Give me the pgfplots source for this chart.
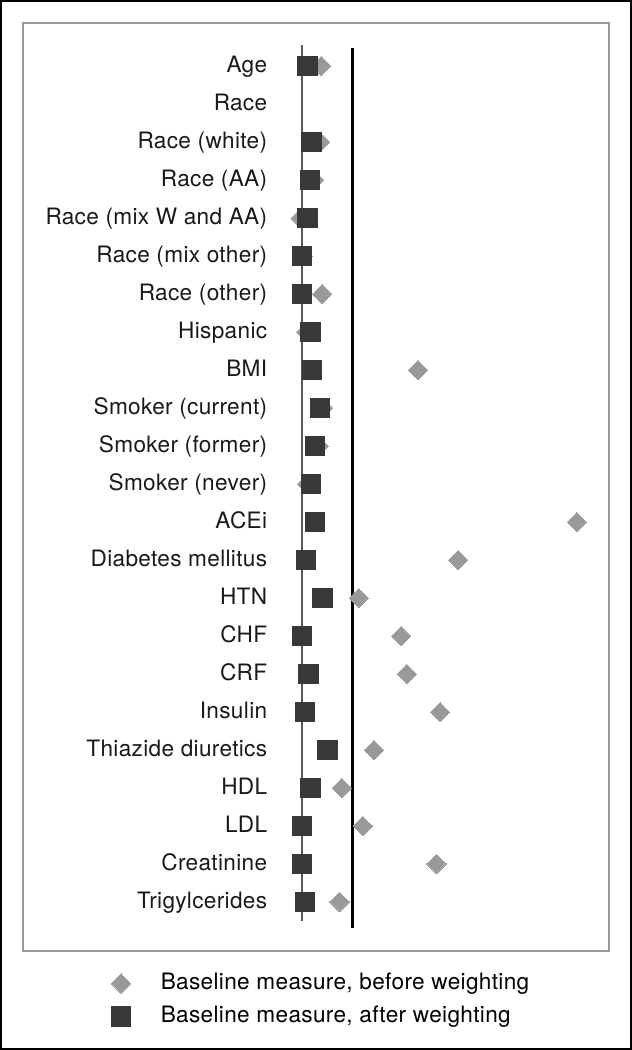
\documentclass[border=0pt]{standalone}
\usepackage{fontspec}
\setmainfont{TeX Gyre Heros}[LetterSpace=1.5]
\usepackage{pgfplots}
\usepackage{pgfplotstable}
\pgfplotsset{compat=1.18}

\definecolor{before}{HTML}{999999}
\definecolor{after}{HTML}{383838}
\definecolor{framegray}{HTML}{9A9A9A}
\definecolor{zerogray}{HTML}{5A5A5A}

% standardized differences, row 0 = Age ... row 22 = Trigylcerides (row 1 "Race" is empty)
\pgfplotstableread{
row before after
0  0.0385  0.011
2  0.0366  0.019
3  0.0247  0.0158
4  -0.0024 0.011
5  0.002   0.0
6  0.0405  0.0
7  0.0089  0.017
8  0.2294  0.0204
9  0.0425  0.0356
10 0.0332  0.0263
11 0.0101  0.0184
12 0.5435  0.0263
13 0.309   0.0085
14 0.1126  0.0405
15 0.1966  0.0
16 0.2075  0.0134
17 0.2733  0.0059
18 0.1425  0.0506
19 0.079   0.017
20 0.1202  0.0
21 0.266   0.0
22 0.0743  0.0059
}\smd

\begin{document}
\begin{tikzpicture}
\begin{axis}[
  name=ax,
  scale only axis,
  width=293pt, height=464pt,
  xmin=-0.551, xmax=0.607,
  ymin=-1.132, ymax=23.29,
  y dir=reverse,
  clip=false,
  axis line style={draw=framegray, line width=0.75pt},
  xtick=\empty,
  ytick={0,...,22},
  major tick length=0pt,
  yticklabels={Age, Race, Race (white), Race (AA), Race (mix W and AA),
    Race (mix other), Race (other), Hispanic, BMI, Smoker (current),
    Smoker (former), Smoker (never), ACEi, Diabetes mellitus, HTN, CHF,
    CRF, Insulin, Thiazide diuretics, HDL, LDL, Creatinine, Trigylcerides},
  yticklabel style={anchor=base east, inner sep=0pt, xshift=122.3pt,
    yshift=-3.4pt, font=\fontsize{11.3}{13}\selectfont, text=black!90},
  legend style={draw=none, fill=none, at={(0.1508,-0.0237)},
    anchor=north west, inner sep=0pt, outer sep=0pt,
    font=\fontsize{11.3}{13}\selectfont, column sep=15pt, row sep=6pt,
    nodes={inner sep=0pt, text height=8pt, text depth=2.5pt}},
  legend cell align=left,
]
% reference lines
\addplot[forget plot, zerogray, line width=0.75pt] coordinates {(0,-0.55) (0,22.5)};
\addplot[forget plot, black, line width=1.3pt] coordinates {(0.1,-0.47) (0.1,22.68)};

\addplot[only marks, mark=square*, mark size=3.4pt, color=before,
  mark options={rotate=45, fill=before, draw=before, line width=0pt}]
  table[x=before, y=row] {\smd};
\addlegendentry{Baseline measure, before weighting}

\addplot[only marks, mark=square*, mark size=4.85pt, color=after,
  mark options={fill=after, draw=after, line width=0pt}]
  table[x=after, y=row] {\smd};
\addlegendentry{Baseline measure, after weighting}
\end{axis}
\draw[line width=1pt] ([shift={(-11pt,-49pt)}]ax.south west) rectangle ([shift={(11pt,11pt)}]ax.north east);
\end{tikzpicture}
\end{document}
